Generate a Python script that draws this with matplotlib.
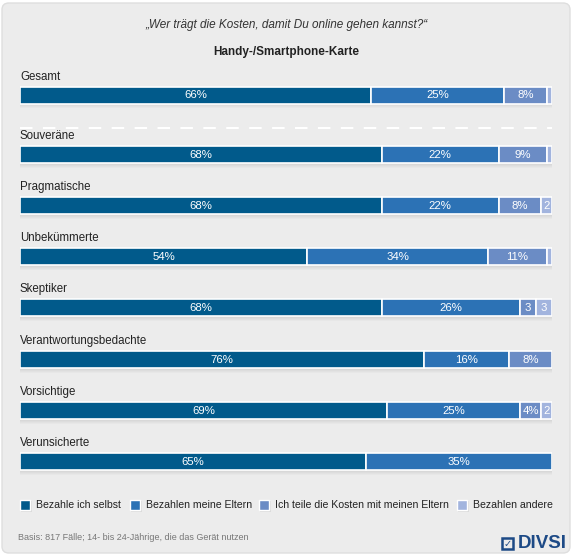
import matplotlib.pyplot as plt
from matplotlib.patches import FancyBboxPatch, Rectangle

plt.rcParams['font.family'] = ['Liberation Sans', 'DejaVu Sans']

# survey shares per group (percent), last column = "Bezahlen andere"
groups = ['Gesamt', 'Souveräne', 'Pragmatische', 'Unbekümmerte', 'Skeptiker',
          'Verantwortungsbedachte', 'Vorsichtige', 'Verunsicherte']
selbst = [66, 68, 68, 54, 68, 76, 69, 65]
eltern = [25, 22, 22, 34, 26, 16, 25, 35]
geteilt = [8, 9, 8, 11, 3, 8, 4, 0]
andere = [1, 1, 2, 1, 3, 0, 2, 0]
series = [selbst, eltern, geteilt, andere]
legend_labels = ['Bezahle ich selbst', 'Bezahlen meine Eltern',
                 'Ich teile die Kosten mit meinen Eltern', 'Bezahlen andere']
colors = ['#015a8b', '#2c72b5', '#6b8cc5', '#a2b4de']

W, H = 573, 555
fig = plt.figure(figsize=(W / 100, H / 100), dpi=100)
fig.patch.set_facecolor('white')

# rounded grey panel (behind everything)
panel = FancyBboxPatch((2 / W, 2 / H), 568 / W, 550 / H,
                       boxstyle='round,pad=0,rounding_size=0.012',
                       transform=fig.transFigure, facecolor='#ececec',
                       edgecolor='#dedede', linewidth=1, zorder=-10)
fig.patches.append(panel)

# bar axes: x in percent, y in pixel rows (top = 0)
ax = fig.add_axes([20 / W, 0, 532 / W, 1])
ax.set_xlim(0, 100)
ax.set_ylim(H, 0)
ax.axis('off')
ax.patch.set_alpha(0)

centers = [95, 154.5, 205.5, 256.5, 307.5, 359.5, 410.5, 461.5]
bh = 17

# soft shadow under each bar
for k in range(4):
    ax.barh([c + 1.5 + k * 0.4 for c in centers], 100.2 + 0.3 * k, height=bh + 1.5 * k,
            left=-0.1 - 0.15 * k, color='black', alpha=0.018, linewidth=0)

for i, g in enumerate(groups):
    c = centers[i]
    total = sum(s[i] for s in series)
    left = 0
    for j, s in enumerate(series):
        v = s[i] * 100 / total
        if v > 0:
            ax.barh(c, v, left=left, height=bh, color=colors[j],
                    edgecolor='white', linewidth=1.2)
            if s[i] >= 4:
                lab = f'{s[i]}%'
            elif s[i] >= 2:
                lab = f'{s[i]}'
            else:
                lab = ''
            if lab:
                ax.text(left + v / 2, c + 0.5, lab, ha='center', va='center',
                        color='white', fontsize=8.2)
        left += v
    ax.text(0, c - bh / 2 - 4, g, ha='left', va='bottom', fontsize=8.3,
            color='#222222')

# dashed separator below "Gesamt"
ax.plot([0, 100], [128, 128], color='white', lw=1.5, dashes=(6, 5), zorder=5)

# titles
fig.text(0.5, 1 - 25 / H, '„Wer trägt die Kosten, damit Du online gehen kannst?“',
         ha='center', va='center', fontsize=8.5, style='italic', color='#333333')
fig.text(0.5, 1 - 52 / H, 'Handy-/Smartphone-Karte', ha='center', va='center',
         fontsize=8.5, weight='bold', color='#222222')

# legend
leg_x = [20, 130, 259, 457]
for j, lab in enumerate(legend_labels):
    x0 = leg_x[j]
    fig.patches.append(Rectangle(((x0 + 1) / W, 1 - 512 / H), 11 / W, 11 / H,
                                 transform=fig.transFigure, facecolor='black',
                                 alpha=0.07, edgecolor='none'))
    fig.patches.append(Rectangle((x0 / W, 1 - 510 / H), 10 / W, 10 / H,
                                 transform=fig.transFigure, facecolor=colors[j],
                                 edgecolor='white', linewidth=1))
    fig.text((x0 + 16) / W, 1 - 505 / H, lab, ha='left', va='center',
             fontsize=7.6, color='#222222')

# footnote
fig.text(18 / W, 1 - 537 / H, 'Basis: 817 Fälle; 14- bis 24-Jährige, die das Gerät nutzen',
         ha='left', va='center', fontsize=6.5, color='#777777')

# logo
fig.patches.append(Rectangle((502 / W, 1 - 549 / H), 11 / W, 11 / H,
                             transform=fig.transFigure, facecolor='none',
                             edgecolor='#1d4a86', linewidth=1.8))
fig.text(507.5 / W, 1 - 543.5 / H, '✓', ha='center', va='center', fontsize=7,
         color='#1d4a86', weight='bold', family=['DejaVu Sans'])
fig.text(518 / W, 1 - 543 / H, 'DIVSI', ha='left', va='center', fontsize=13.5,
         weight='bold', color='#1d4a86')

fig.savefig('out.png', dpi=100, facecolor='white')
